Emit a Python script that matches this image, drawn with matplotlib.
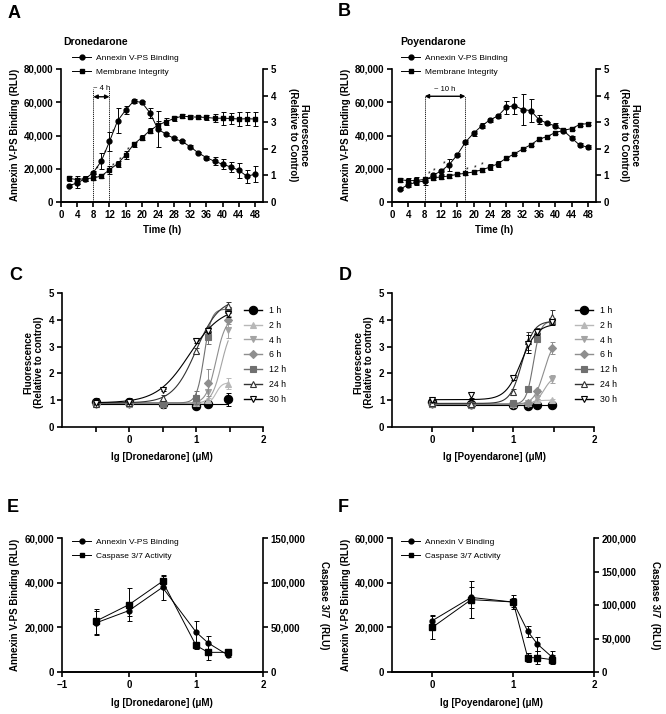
import numpy as np
import matplotlib
matplotlib.use("Agg")
import matplotlib.pyplot as plt
from matplotlib.lines import Line2D
from matplotlib.ticker import FuncFormatter

plt.rcParams['font.family'] = ['Liberation Sans', 'DejaVu Sans']
plt.rcParams['font.weight'] = 'bold'
plt.rcParams['axes.linewidth'] = 1.2

W, H = 666, 714

# ---- data: A / B time course ----
hours = [2, 4, 6, 8, 10, 12, 14, 16, 18, 20, 22, 24, 26, 28, 30, 32, 34, 36, 38, 40, 42, 44, 46, 48]

annexin_a = [9800, 11500, 14000, 17700, 24700, 36400, 48800, 55300, 60700, 59900, 53700, 43800,
             40800, 38200, 36400, 33200, 29500, 26700, 24500, 22700, 21100, 19100, 15500, 16700]
annexin_a_err = [800, 2800, 1500, 1000, 5000, 6000, 7500, 2500, 1000, 800, 3000, 11000,
                 1000, 800, 800, 800, 800, 1200, 2500, 3000, 3000, 4500, 4000, 4800]
membrane_a = [0.89, 0.84, 0.88, 0.90, 0.98, 1.21, 1.44, 1.77, 2.17, 2.42, 2.68, 2.89,
              3.02, 3.14, 3.23, 3.20, 3.19, 3.18, 3.15, 3.15, 3.14, 3.12, 3.13, 3.12]
membrane_a_err = [0.10, 0.15, 0.10, 0.08, 0.08, 0.15, 0.12, 0.15, 0.10, 0.10, 0.10, 0.15,
                  0.12, 0.08, 0.06, 0.06, 0.06, 0.08, 0.15, 0.25, 0.22, 0.25, 0.25, 0.25]

annexin_b = [7800, 10400, 12000, 12500, 16000, 18600, 22400, 28400, 36000, 41400, 45800, 49400,
             51800, 57000, 58000, 55600, 55000, 49600, 47400, 45800, 43000, 38600, 34200, 33000]
annexin_b_err = [600, 1500, 1500, 2000, 1500, 1500, 3500, 1000, 1000, 1500, 1500, 1000,
                 1000, 4000, 5000, 9500, 7000, 2500, 1000, 1500, 1000, 1000, 1000, 1000]
membrane_b = [0.84, 0.80, 0.81, 0.85, 0.91, 0.94, 0.98, 1.04, 1.08, 1.13, 1.21, 1.31,
              1.44, 1.65, 1.81, 1.99, 2.15, 2.36, 2.46, 2.61, 2.69, 2.76, 2.91, 2.95]
membrane_b_err = [0.08, 0.10, 0.12, 0.10, 0.08, 0.08, 0.06, 0.06, 0.06, 0.06, 0.08, 0.12,
                  0.12, 0.05, 0.05, 0.05, 0.05, 0.05, 0.05, 0.05, 0.05, 0.05, 0.05, 0.05]

# asterisks (time, left-axis value)
stars_a = [(9.0, 20000), (10.9, 29500), (12.9, 42000), (13.0, 22000), (14.7, 25500), (16.7, 31500)]
stars_b = [(9.1, 17000), (10.3, 19000), (12.8, 23000), (18.5, 19500), (20.5, 20500), (22.1, 22500)]

# ---- data: C / D concentration response ----
times = ['1 h', '2 h', '4 h', '6 h', '12 h', '24 h', '30 h']
lg_c = [-0.5, 0, 0.5, 1.0, 1.18, 1.48]
fluor_c = [
    [0.93, 0.92, 0.85, 0.80, 0.85, 1.03],
    [0.85, 0.85, 0.85, 0.90, 1.00, 1.62],
    [0.85, 0.85, 0.85, 0.90, 1.30, 3.62],
    [0.85, 0.85, 0.85, 0.95, 1.65, 4.00],
    [0.88, 0.88, 0.87, 1.10, 3.35, 4.35],
    [0.85, 0.88, 1.08, 2.85, 3.65, 4.50],
    [0.90, 0.95, 1.38, 3.22, 3.60, 4.22],
]
fluor_c_err = [
    [0.15, 0.15, 0.15, 0.05, 0.05, 0.25],
    [0.05, 0.10, 0.05, 0.05, 0.10, 0.20],
    [0.05, 0.10, 0.05, 0.05, 0.30, 0.30],
    [0.05, 0.10, 0.05, 0.05, 0.50, 0.15],
    [0.05, 0.10, 0.05, 0.25, 0.25, 0.10],
    [0.05, 0.10, 0.10, 0.10, 0.10, 0.15],
    [0.05, 0.10, 0.05, 0.10, 0.10, 0.10],
]
# 4PL fit parameters: bottom, top, logEC50, hill
fit_c = [
    [0.87, 0.87, 1.00, 1.0],
    [0.88, 1.65, 1.30, 10.0],
    [0.88, 3.80, 1.38, 6.0],
    [0.88, 4.10, 1.30, 6.0],
    [0.90, 4.40, 1.12, 8.0],
    [0.90, 4.80, 1.00, 2.5],
    [0.90, 4.50, 0.90, 1.8],
]

lg_d = [0.0, 0.48, 1.0, 1.18, 1.3, 1.48]
fluor_d = [
    [0.95, 0.85, 0.82, 0.79, 0.81, 0.82],
    [0.85, 0.82, 0.85, 0.88, 1.00, 1.00],
    [0.85, 0.82, 0.85, 0.88, 1.10, 1.80],
    [0.85, 0.82, 0.85, 0.90, 1.35, 2.95],
    [0.85, 0.82, 0.88, 1.42, 3.30, 3.95],
    [0.88, 0.85, 1.30, 3.20, 3.60, 4.10],
    [1.00, 1.20, 1.82, 3.10, 3.55, 3.90],
]
fluor_d_err = [
    [0.10, 0.05, 0.03, 0.03, 0.03, 0.03],
    [0.05, 0.05, 0.03, 0.03, 0.05, 0.05],
    [0.05, 0.05, 0.03, 0.03, 0.05, 0.15],
    [0.05, 0.05, 0.03, 0.03, 0.05, 0.22],
    [0.05, 0.05, 0.05, 0.05, 0.10, 0.10],
    [0.05, 0.05, 0.12, 0.33, 0.10, 0.25],
    [0.05, 0.12, 0.05, 0.35, 0.10, 0.10],
]
fit_d = [
    [0.83, 0.83, 1.00, 1.0],
    [0.85, 1.00, 1.25, 10.0],
    [0.85, 1.90, 1.38, 8.0],
    [0.85, 3.30, 1.38, 7.0],
    [0.85, 3.95, 1.25, 10.0],
    [0.88, 3.95, 1.11, 6.0],
    [1.02, 3.85, 1.10, 4.5],
]

# ---- data: E / F ----
lg_e = [-0.5, 0, 0.5, 1.0, 1.18, 1.48]
annexin_e = [21900, 27500, 37900, 17900, 13000, 7500]
annexin_e_err = [5400, 2500, 5500, 5000, 3300, 800]
caspase_e = [56700, 75400, 101500, 29800, 22000, 22000]
caspase_e_err = [14000, 18700, 6300, 3700, 9000, 2500]

lg_f = [0.0, 0.48, 1.0, 1.18, 1.3, 1.48]
annexin_f = [23000, 33400, 31300, 18200, 12500, 6700]
annexin_f_err = [2400, 4800, 2000, 2500, 3000, 2500]
caspase_f = [66700, 108000, 104500, 21400, 21400, 18400]
caspase_f_err = [17400, 28000, 10000, 7000, 10000, 7000]

series_style = [
    dict(color='black', marker='o', ms=6, mfc='black'),
    dict(color='#b8b8b8', marker='^', ms=5, mfc='#b8b8b8'),
    dict(color='#a4a4a4', marker='v', ms=5, mfc='#a4a4a4'),
    dict(color='#8e8e8e', marker='D', ms=4, mfc='#8e8e8e'),
    dict(color='#707070', marker='s', ms=4.5, mfc='#707070'),
    dict(color='#333333', marker='^', ms=5, mfc='white'),
    dict(color='black', marker='v', ms=5, mfc='white'),
]


def box(l, t, r, b):
    return [l / W, 1 - b / H, (r - l) / W, (b - t) / H]


def ftext(px, py, s, **kw):
    fig.text(px / W, 1 - py / H, s, ha=kw.pop('ha', 'center'), va=kw.pop('va', 'center'), **kw)


comma = FuncFormatter(lambda v, p: '{:,.0f}'.format(v))


def style_ax(ax):
    ax.tick_params(direction='out', length=3.5, width=1.2, labelsize=7, pad=2)
    for lab in ax.get_xticklabels() + ax.get_yticklabels():
        lab.set_fontweight('bold')
    ax.spines['top'].set_visible(False)


def legend_at(ax, handles, labels, px, py, fs=6, hl=2.3, sp=0.75, tp=0.6):
    ax.legend(handles, labels, loc='upper left', bbox_to_anchor=(px / W, 1 - py / H),
              bbox_transform=fig.transFigure, frameon=False, handlelength=hl,
              labelspacing=sp, handletextpad=tp, borderpad=0, borderaxespad=0,
              prop={'size': fs, 'weight': 'normal'})


def time_panel(pos, ann, ann_err, mem, mem_err, dash, dash_top, arrow_y, lab, lab_y, stars, leg_x):
    ax = fig.add_axes(box(*pos))
    ax2 = ax.twinx()
    ax.errorbar(hours, ann, yerr=ann_err, fmt='-o', color='black', ms=3.5, lw=0.7,
                elinewidth=0.7, capsize=1.8, capthick=0.7)
    ax2.errorbar(hours, mem, yerr=mem_err, fmt='-s', color='black', ms=3.5, lw=0.7,
                 elinewidth=0.7, capsize=1.8, capthick=0.7)
    ax.set_xlim(0, 50)
    ax.set_xticks(range(0, 49, 4))
    ax.set_ylim(0, 80000)
    ax.set_yticks([0, 20000, 40000, 60000, 80000])
    ax.yaxis.set_major_formatter(comma)
    ax2.set_ylim(0, 5)
    ax2.set_yticks(range(6))
    style_ax(ax)
    style_ax(ax2)
    ax.spines['right'].set_visible(False)
    ax2.spines['left'].set_visible(False)
    ax.vlines(dash, 0, dash_top, colors='black', linestyles=(0, (1.5, 1)), lw=0.6)
    ax.annotate('', xy=(dash[0], arrow_y), xytext=(dash[1], arrow_y),
                arrowprops=dict(arrowstyle='<|-|>', lw=1.0, color='black',
                                mutation_scale=6, shrinkA=0, shrinkB=0))
    ax.text((dash[0] + dash[1]) / 2, lab_y, lab, ha='center', va='center', fontsize=5.5,
            fontweight='normal')
    for sx, sy in stars:
        ax.text(sx, sy, '*', ha='center', va='center', fontsize=5, fontweight='normal')
    hs = [Line2D([], [], color='black', marker='o', ms=3.5, lw=0.7),
          Line2D([], [], color='black', marker='s', ms=3.5, lw=0.7)]
    legend_at(ax, hs, ['Annexin V-PS Binding', 'Membrane Integrity'], leg_x, 54)
    return ax


def dose_panel(pos, xs, vals, errs, fits, xlim, leg_x):
    ax = fig.add_axes(box(*pos))
    hs = []
    for i in range(len(times)):
        st = series_style[i]
        b, t, ec, h = fits[i]
        xx = np.linspace(xs[0], xs[-1], 200)
        yy = b + (t - b) / (1 + 10 ** ((ec - xx) * h))
        ax.plot(xx, yy, color=st['color'], lw=0.8)
        ax.errorbar(xs, vals[i], yerr=errs[i], fmt='none', ecolor=st['color'],
                    elinewidth=0.7, capsize=1.8, capthick=0.7)
        ax.plot(xs, vals[i], ls='none', marker=st['marker'], ms=st['ms'], color=st['color'],
                mfc=st['mfc'], mew=0.8)
        hs.append(Line2D([], [], color=st['color'], marker=st['marker'], ms=st['ms'],
                         mfc=st['mfc'], mew=0.8, lw=1.0))
    ax.set_xlim(*xlim)
    ticks = [v for v in [-0.5, 0, 0.5, 1, 1.5, 2] if v > xlim[0]]
    ax.set_xticks(ticks)
    ax.set_xticklabels(['{:d}'.format(int(v)) if v == int(v) else '' for v in ticks])
    ax.set_ylim(0, 5)
    ax.set_yticks(range(6))
    style_ax(ax)
    ax.spines['right'].set_visible(False)
    legend_at(ax, hs, times, leg_x, 306, fs=6.3, hl=2.0, sp=0.66, tp=0.9)
    return ax


def ef_panel(pos, xs, ann, ann_err, cas, cas_err, xlim, xticks, rmax, labels, leg_x):
    ax = fig.add_axes(box(*pos))
    ax2 = ax.twinx()
    ax.errorbar(xs, ann, yerr=ann_err, fmt='-o', color='black', ms=3.5, lw=0.7,
                elinewidth=0.7, capsize=1.8, capthick=0.7)
    ax2.errorbar(xs, cas, yerr=cas_err, fmt='-s', color='black', ms=4, lw=0.7,
                 elinewidth=0.7, capsize=1.8, capthick=0.7)
    ax.set_xlim(*xlim)
    ax.set_xticks(xticks)
    ax.set_ylim(0, 60000)
    ax.set_yticks([0, 20000, 40000, 60000])
    ax.yaxis.set_major_formatter(comma)
    ax2.set_ylim(0, rmax)
    ax2.set_yticks(range(0, rmax + 1, 50000))
    ax2.yaxis.set_major_formatter(comma)
    style_ax(ax)
    style_ax(ax2)
    ax.spines['right'].set_visible(False)
    ax2.spines['left'].set_visible(False)
    hs = [Line2D([], [], color='black', marker='o', ms=3.5, lw=0.7),
          Line2D([], [], color='black', marker='s', ms=3.5, lw=0.7)]
    legend_at(ax, hs, labels, leg_x, 538)
    return ax


fig = plt.figure(figsize=(W / 100, H / 100), dpi=100)

# A / B
time_panel((61, 69, 263, 202), annexin_a, annexin_a_err, membrane_a, membrane_a_err,
           [8, 12], 67700, 63300, '~ 4 h', 68500, stars_a, 72)
time_panel((392, 69, 596, 202), annexin_b, annexin_b_err, membrane_b, membrane_b_err,
           [8, 18], 63600, 63600, '~ 10 h', 67600, stars_b, 401)

# C / D
dose_panel((62, 293, 263, 427), lg_c, fluor_c, fluor_c_err, fit_c, (-1, 2), 244)
dose_panel((392, 293, 594, 427), lg_d, fluor_d, fluor_d_err, fit_d, (-0.5, 2), 575)

# E / F
ef_panel((62, 538, 263, 672), lg_e, annexin_e, annexin_e_err, caspase_e, caspase_e_err,
         (-1, 2), [-1, 0, 1, 2], 150000, ['Annexin V-PS Binding', 'Caspase 3/7 Activity'], 72)
ef_panel((392, 538, 594, 672), lg_f, annexin_f, annexin_f_err, caspase_f, caspase_f_err,
         (-0.5, 2), [0, 1, 2], 200000, ['Annexin V Binding', 'Caspase 3/7 Activity'], 401)

# panel letters
for s, x, y in [('A', 14, 13), ('B', 344, 12), ('C', 16, 276), ('D', 345, 276),
                ('E', 13, 507), ('F', 343, 507)]:
    ftext(x, y, s, fontsize=13, fontweight='bold')

ftext(63, 42, 'Dronedarone', ha='left', fontsize=7.5, fontweight='bold')
ftext(400, 42, 'Poyendarone', ha='left', fontsize=7.5, fontweight='bold')

lab = dict(fontsize=7, fontweight='bold')
ftext(162, 230, 'Time (h)', **lab)
ftext(494, 230, 'Time (h)', **lab)
ftext(15, 135, 'Annexin V-PS Binding (RLU)', rotation=90, **lab)
ftext(346, 135, 'Annexin V-PS Binding (RLU)', rotation=90, **lab)
ftext(298, 135, 'Fluorescence\n(Relative to Control)', rotation=270, linespacing=1.1, **lab)
ftext(629, 135, 'Fluorescence\n(Relative to Control)', rotation=270, linespacing=1.1, **lab)

ftext(34, 362, 'Fluorescence\n(Relative to control)', rotation=90, linespacing=1.1, **lab)
ftext(364, 362, 'Fluorescence\n(Relative to control)', rotation=90, linespacing=1.1, **lab)
ftext(162, 457, 'lg [Dronedarone] (μM)', **lab)
ftext(494, 457, 'lg [Poyendarone] (μM)', **lab)

ftext(15, 605, 'Annexin V-PS Binding (RLU)', rotation=90, **lab)
ftext(346, 605, 'Annexin V-PS Binding (RLU)', rotation=90, **lab)
ftext(324, 605, 'Caspase 3/7  (RLU)', rotation=270, **lab)
ftext(655, 605, 'Caspase 3/7  (RLU)', rotation=270, **lab)
ftext(162, 703, 'lg [Dronedarone] (μM)', **lab)
ftext(492, 703, 'lg [Poyendarone] (μM)', **lab)

fig.savefig('out.png', dpi=100)
